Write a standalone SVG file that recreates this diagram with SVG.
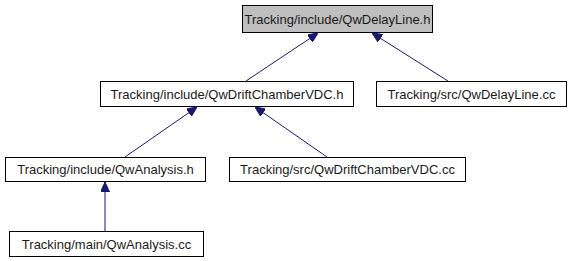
<svg xmlns="http://www.w3.org/2000/svg" width="569" height="261" viewBox="0 0 569 261">
  <style>
    .box { fill: #ffffff; stroke: #000000; stroke-width: 1; }
    .root { fill: #bfbfbf; }
    .label { font-family: "Liberation Sans", Arial, Helvetica, sans-serif; font-size: 13px; fill: #1a1a1a; text-anchor: middle; }
    .edge { fill: none; stroke: #191970; stroke-width: 1; }
  </style>
  <defs>
    <marker id="head" viewBox="0 0 10 9" refX="10" refY="4.5" markerWidth="10" markerHeight="9" markerUnits="userSpaceOnUse" orient="auto">
      <path d="M0,0 L10,4.5 L0,9 Z" fill="#191970" stroke="#191970"/>
    </marker>
  </defs>

  <!-- include dependency edges, pointing at the including header -->
  <g id="edges">
    <path class="edge" d="M246,81 L318,33" marker-end="url(#head)"/>
    <path class="edge" d="M448,81 L372,33" marker-end="url(#head)"/>
    <path class="edge" d="M125,157 L197,107" marker-end="url(#head)"/>
    <path class="edge" d="M327,157 L255,107" marker-end="url(#head)"/>
    <path class="edge" d="M105,231 L105,182" marker-end="url(#head)"/>
  </g>

  <g id="QwDelayLine_h">
    <rect class="box root" x="242.5" y="5.5" width="190" height="27"/>
    <text class="label" x="337.5" y="23.5">Tracking/include/QwDelayLine.h</text>
  </g>
  <g id="QwDriftChamberVDC_h">
    <rect class="box" x="100.5" y="81.5" width="253" height="25"/>
    <text class="label" x="227" y="98.5">Tracking/include/QwDriftChamberVDC.h</text>
  </g>
  <g id="QwDelayLine_cc">
    <rect class="box" x="376.5" y="81.5" width="190" height="25"/>
    <text class="label" x="471.5" y="98.5">Tracking/src/QwDelayLine.cc</text>
  </g>
  <g id="QwAnalysis_h">
    <rect class="box" x="5.5" y="157.5" width="200" height="24"/>
    <text class="label" x="105.5" y="174">Tracking/include/QwAnalysis.h</text>
  </g>
  <g id="QwDriftChamberVDC_cc">
    <rect class="box" x="229.5" y="157.5" width="236" height="24"/>
    <text class="label" x="347.5" y="174">Tracking/src/QwDriftChamberVDC.cc</text>
  </g>
  <g id="QwAnalysis_cc">
    <rect class="box" x="9.5" y="231.5" width="194" height="25"/>
    <text class="label" x="106.5" y="248.5">Tracking/main/QwAnalysis.cc</text>
  </g>
</svg>
